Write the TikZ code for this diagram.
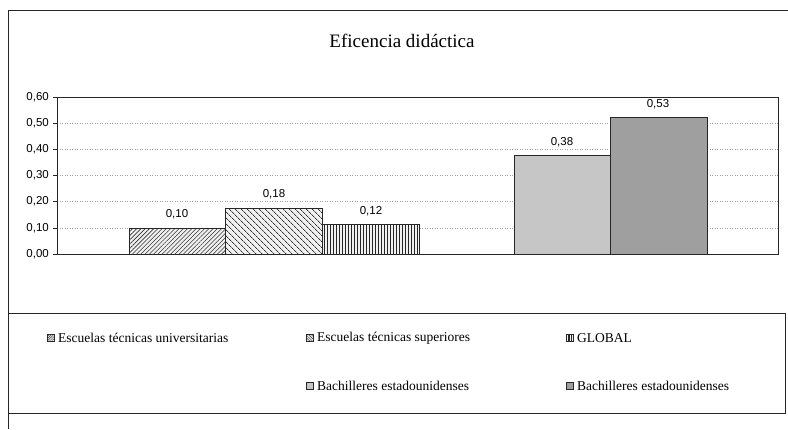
\documentclass[tikz,border=0pt]{standalone}
\usepackage{fontspec}
\setmainfont{Liberation Serif}
\newfontfamily\axisfont{Liberation Sans}
\usetikzlibrary{patterns.meta}
\begin{document}
\begin{tikzpicture}[x=1pt,y=-1pt,
 frame/.style={draw=black!85,line width=0.8pt},
 gridline/.style={draw=gray!75,line width=0.5pt,dash pattern=on 1pt off 1.5pt},
 bar/.style={draw=black!85,line width=0.7pt},
 tickline/.style={draw=black!85,line width=0.6pt},
 ylab/.style={font=\axisfont\fontsize{11.5}{12}\selectfont,anchor=east,inner sep=0pt},
 vlab/.style={font=\axisfont\fontsize{11.5}{12}\selectfont,inner sep=0pt},
 legtext/.style={font=\fontsize{13.5}{14}\selectfont,anchor=west,inner sep=0pt},
 legbox/.style={draw=black!85,line width=0.5pt,minimum size=7pt,inner sep=0pt},
 pA/.style={pattern={Lines[angle=45,distance=3pt,line width=0.6pt]},pattern color=black!80},
 pB/.style={pattern={Lines[angle=-45,distance=4pt,line width=0.8pt]},pattern color=black!80},
 pC/.style={pattern={Lines[angle=90,distance=3pt,line width=0.8pt]},pattern color=black!85},
 sA/.style={pattern={Lines[angle=45,distance=1.6pt,line width=0.4pt]},pattern color=black!80},
 sB/.style={pattern={Lines[angle=-45,distance=1.9pt,line width=0.5pt]},pattern color=black!80},
 sC/.style={pattern={Lines[angle=90,distance=1.6pt,line width=0.6pt]},pattern color=black!85}
]
\useasboundingbox (0,0) rectangle (788,429);
\fill[white] (0,0) rectangle (788,429);
% outer frame
\draw[frame] (8,429) -- (8,10) -- (788,10);
% title
\node[font=\fontsize{19}{22}\selectfont,inner sep=0pt] (title) at (402,41) {Eficencia didáctica};
% grid lines
\foreach \v in {1,...,5} \draw[gridline] (57,{254-\v*26.17}) -- (778,{254-\v*26.17});
% ticks and labels
\foreach \v/\t in {0/{0,00},1/{0,10},2/{0,20},3/{0,30},4/{0,40},5/{0,50},6/{0,60}} {
  \draw[tickline] (53,{254-\v*26.17}) -- (57,{254-\v*26.17});
  \node[ylab] (y\v) at (49,{254-\v*26.17}) {\t};
}
% bars
\fill[gray!12] (129,254) rectangle (225,228);
\draw[bar,pA] (129,254) rectangle (225,228);
\fill[gray!12] (225,254) rectangle (322,208);
\draw[bar,pB] (225,254) rectangle (322,208);
\fill[gray!12] (322,254) rectangle (419,224);
\draw[bar,pC] (322,254) rectangle (419,224);
\draw[bar,fill=gray!45] (514,254) rectangle (610,155);
\draw[bar,fill=gray!75] (610,254) rectangle (707,117);
% plot frame
\draw[frame] (57,97) rectangle (778,254);
% value labels
\node[vlab] (v1) at (177,214) {0,10};
\node[vlab] (v2) at (274,194) {0,18};
\node[vlab] (v3) at (371,211) {0,12};
\node[vlab] (v4) at (562,142) {0,38};
\node[vlab] (v5) at (658,104) {0,53};
% legend
\draw[frame] (8,313) rectangle (785,413);
\node[legbox,fill=gray!12] (k1) at (51,338) {};
\path[sA] (k1.south west) rectangle (k1.north east);
\node[legtext] (l1) at (58,338) {Escuelas técnicas universitarias};
\node[legbox,fill=gray!12] (k2) at (310,338) {};
\path[sB] (k2.south west) rectangle (k2.north east);
\node[legtext] (l2) at (317,338) {Escuelas técnicas superiores};
\node[legbox,fill=gray!12] (k3) at (570,338) {};
\path[sC] (k3.south west) rectangle (k3.north east);
\node[legtext] (l3) at (577,338) {GLOBAL};
\node[legbox,fill=gray!45] (k4) at (310,386) {};
\node[legtext] (l4) at (317,386) {Bachilleres estadounidenses};
\node[legbox,fill=gray!75] (k5) at (570,386) {};
\node[legtext] (l5) at (577,386) {Bachilleres estadounidenses};
\end{tikzpicture}
\end{document}
